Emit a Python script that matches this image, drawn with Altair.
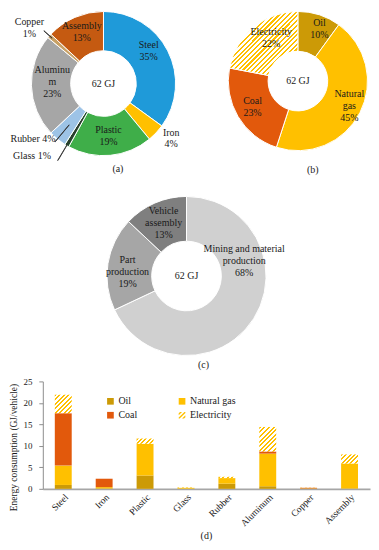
import altair as alt
import pandas as pd

# ---------------- data ----------------
# (a) energy by material / part (share of 62 GJ)
mat_names = ["Steel", "Iron", "Plastic", "Glass", "Rubber", "Aluminum", "Copper", "Assembly"]
mat_pct = [35, 4, 19, 1, 4, 23, 1, 13]
mat_labels = ["Steel\n35%", "Iron\n4%", "Plastic\n19%", "Glass 1%", "Rubber 4%",
              "Aluminu\nm\n23%", "Copper\n1%", "Assembly\n13%"]

# (b) energy by source
src_names = ["Oil", "Natural gas", "Coal", "Electricity"]
src_pct = [10, 45, 23, 22]
src_labels = ["Oil\n10%", "Natural\ngas\n45%", "Coal\n23%", "Electricity\n22%"]

# (c) energy by stage
stage_names = ["Mining and material production", "Part production", "Vehicle assembly"]
stage_pct = [68, 19, 13]
stage_labels = ["Mining and material\nproduction\n68%", "Part\nproduction\n19%", "Vehicle\nassembly\n13%"]

center_label = ["62 GJ"]
captions = ["(a)", "(b)", "(c)", "(d)"]

# (d) energy consumption by material and source (GJ/vehicle)
bar_cats = ["Steel", "Iron", "Plastic", "Glass", "Rubber", "Aluminum", "Copper", "Assembly"]
oil = [0.9, 0.1, 3.1, 0.05, 1.2, 0.6, 0.05, 0.1]
natural_gas = [4.5, 0.3, 7.4, 0.2, 1.3, 7.6, 0.05, 5.8]
coal = [12.2, 1.95, 0.0, 0.0, 0.0, 0.5, 0.15, 0.0]
electricity = [4.3, 0.0, 1.2, 0.1, 0.3, 5.7, 0.05, 2.1]
y_ticks = [0, 5, 10, 15, 20, 25]
y_title = "Energy consumption (GJ/vehicle)"

# ---------------- styles ----------------
FONT = "Liberation Serif"
TXT = "#1a1a1a"
YEL = "#ffc000"
LINE_H = 12
mat_colors = ["#1f9ad9", "#ffc000", "#3fae49", "#1f4e2a", "#9dc3e6", "#a6a6a6", "#c8a165", "#c55a11"]
src_colors = ["#cc9a06", "#ffc000", "#e2590c", "#ffc000"]
stage_colors = ["#d0d0d0", "#a6a6a6", "#7f7f7f"]
DOM = alt.Scale(domain=[0, 100])
HATCH_PATH = ("M-1,-0.6L-0.6,-1L0,-1L-1,0Z "
              "M-1,0.7L0.7,-1L1,-1L1,-0.7L-0.7,1L-1,1Z "
              "M0,1L1,0L1,0.6L0.6,1Z")

OFF = 33.5          # left overhang of the bar chart's y axis (title + labels + ticks)
CANVAS_W = 363


def hatch(w, h, color=YEL, period=4.7, duty=0.45):
    """Diagonal '/' stripes as a linear gradient over a w x h box."""
    w = max(w, 0.5)
    h = max(h, 0.5)
    s = (w + h) / (w * w + h * h)
    n = max(1, round((w + h) / period))
    stops = []
    for k in range(n):
        a, b, c = k / n, (k + duty) / n, (k + 1) / n
        stops += [{"offset": a, "color": color}, {"offset": b, "color": color},
                  {"offset": b, "color": "white"}, {"offset": c, "color": "white"}]
    return {"gradient": "linear", "x1": 0, "y1": 0, "x2": s * w, "y2": s * h, "stops": stops}


def donut_base(names, pct, labels):
    df = pd.DataFrame({"name": names, "pct": pct, "label": labels, "idx": list(range(len(names)))})
    return (alt.Chart(df)
            .transform_window(cum="sum(pct)", sort=[alt.SortField("idx")])
            .transform_calculate(t0="datum.cum - datum.pct",
                                 mid="datum.cum - datum.pct / 2",
                                 mid2="datum.cum - datum.pct / 2 + 0.06"))


def donut_arcs(base, names, colors, d, conditions=None):
    if conditions:
        color = alt.Color("name:N", scale=alt.Scale(domain=names, range=colors), legend=None,
                          condition=conditions)
    else:
        color = alt.Color("name:N", scale=alt.Scale(domain=names, range=colors), legend=None)
    return base.mark_arc(radius=d["R"], innerRadius=d["r"], stroke="white", strokeWidth=1).encode(
        theta=alt.Theta("t0:Q", scale=DOM), theta2="cum:Q", color=color,
        x=alt.value(d["cx"] - OFF), y=alt.value(d["cy"]))


def donut_labels(base, names, labels, styles, d, size=10):
    out = []
    n_lines = {n: lab.count("\n") + 1 for n, lab in zip(names, labels)}
    for name, (rad, dx, dy, align) in styles.items():
        dy_block = dy - (n_lines[name] - 1) * LINE_H / 2   # centre the text block
        out.append(base.transform_filter(alt.datum.name == name).mark_text(
            radius=rad, dx=dx, dy=dy_block, align=align, baseline="middle", lineBreak="\n",
            font=FONT, fontSize=size, lineHeight=LINE_H, color=TXT).encode(
            theta=alt.Theta("mid:Q", scale=DOM), text="label:N",
            x=alt.value(d["cx"] - OFF), y=alt.value(d["cy"])))
    return out


def donut_leaders(base, spec, d):
    out = []
    for name, (r1, r2) in spec.items():
        out.append(base.transform_filter(alt.datum.name == name).mark_arc(
            radius=r2, innerRadius=r1, stroke="#333333", strokeWidth=0.8, fill="#333333").encode(
            theta=alt.Theta("mid:Q", scale=DOM), theta2="mid2:Q",
            x=alt.value(d["cx"] - OFF), y=alt.value(d["cy"])))
    return out


def text_at(t, x, y, size=10):
    return alt.Chart(pd.DataFrame({"t": [t]})).mark_text(
        font=FONT, fontSize=size, color=TXT, align="center", baseline="middle").encode(
        text="t:N", x=alt.value(x - OFF), y=alt.value(y))


# ---------------- donuts (top) ----------------
A = dict(cx=94.5, cy=72.5, R=72.5, r=33)
B = dict(cx=290, cy=70, R=70, r=30)
C = dict(cx=178, cy=266, R=80, r=35)

base_a = donut_base(mat_names, mat_pct, mat_labels)
base_b = donut_base(src_names, src_pct, src_labels)
base_c = donut_base(stage_names, stage_pct, stage_labels)

styles_a = {
    "Steel": (55, -3.5, -7.5, "center"),
    "Iron": (88, 4, -5, "center"),
    "Plastic": (54, 0, -1, "center"),
    "Glass": (90, -7, -5, "right"),
    "Rubber": (78, 1.5, -4, "right"),
    "Aluminum": (55, 3.5, -3, "center"),
    "Copper": (92, -5.5, 5, "center"),
    "Assembly": (55, 0, -1, "center"),
}
styles_b = {
    "Oil": (54, 5, -1, "center"),
    "Natural gas": (58, 0, -1, "center"),
    "Coal": (53, 0, -1, "center"),
    "Electricity": (50, 5, -4.5, "center"),
}
styles_c = {
    "Mining and material production": (58, 9, -46, "center"),
    "Part production": (59, -1, 5, "center"),
    "Vehicle assembly": (58, 0, 0, "center"),
}
leaders_a = {"Copper": (69, 80), "Glass": (42, 90), "Rubber": (54, 76)}

elec_arc_grad = hatch(69.0, 64.5)
cond_b = [{"test": "datum.name === 'Electricity'", "value": elec_arc_grad}]

top_layers = [
    donut_arcs(base_a, mat_names, mat_colors, A),
    donut_arcs(base_b, src_names, src_colors, B, cond_b),
    donut_arcs(base_c, stage_names, stage_colors, C),
]
top_layers += donut_leaders(base_a, leaders_a, A)
top_layers += donut_labels(base_a, mat_names, mat_labels, styles_a, A)
top_layers += donut_labels(base_b, src_names, src_labels, styles_b, B)
top_layers += donut_labels(base_c, stage_names, stage_labels, styles_c, C)
top_layers += [text_at(center_label[0], d["cx"], d["cy"]) for d in (A, B, C)]
top_layers += [text_at(captions[0], 109, 158), text_at(captions[1], 305, 159),
               text_at(captions[2], 195, 356)]

top = alt.layer(*top_layers).properties(width=CANVAS_W - OFF, height=362).resolve_scale(color="independent")

# ---------------- bar chart (d) ----------------
plot_w, plot_h = 329, 108
bar_w = 17
px_per_unit = plot_h / y_ticks[-1]

rows = []
for i, c in enumerate(bar_cats):
    for j, (s, vals) in enumerate(zip(src_names, [oil, natural_gas, coal, electricity])):
        rows.append({"cat": c, "src": s, "ord": j, "val": vals[i]})
bdf = pd.DataFrame(rows)

elec_conditions = []
for c, e in zip(bar_cats, electricity):
    if e > 0:
        elec_conditions.append({"test": f"datum.cat === '{c}' && datum.src === 'Electricity'",
                                "value": hatch(bar_w, e * px_per_unit)})

leg_props = dict(orient="none", legendX=63, legendY=15, columns=2, direction="horizontal",
                 title=None, labelFont=FONT, labelFontSize=10, labelColor=TXT, symbolSize=45,
                 symbolStrokeWidth=0, labelOffset=3, columnPadding=40, rowPadding=4,
                 padding=0, symbolOpacity=1)
color_scale = alt.Scale(domain=src_names, range=src_colors)

bars = alt.Chart(bdf).mark_bar(width=bar_w).encode(
    x=alt.X("cat:N", sort=bar_cats, scale=alt.Scale(paddingInner=0, paddingOuter=0),
            axis=alt.Axis(title=None, labelAngle=-45, ticks=False, domainColor="#a6a6a6",
                          domainWidth=1.8, labelPadding=3, labelFont=FONT, labelFontSize=9.5,
                          labelColor=TXT)),
    y=alt.Y("val:Q", stack="zero", scale=alt.Scale(domain=[0, y_ticks[-1]], nice=False),
            axis=alt.Axis(values=y_ticks, title=y_title, grid=False, domainColor="#8c8c8c",
                          tickColor="#8c8c8c", tickSize=4, labelPadding=7, titlePadding=4,
                          labelFont=FONT, labelFontSize=9, labelColor=TXT, titleFont=FONT,
                          titleFontSize=9.5, titleFontWeight="normal", titleColor=TXT,
                          titleY=66)),
    color=alt.Color("src:N", scale=color_scale, legend=alt.Legend(**leg_props),
                    condition=elec_conditions),
    order=alt.Order("ord:Q", sort="ascending"),
)

legend_layer = alt.Chart(pd.DataFrame({"src": src_names})).mark_point(filled=True, opacity=0).encode(
    color=alt.Color("src:N", scale=color_scale, legend=alt.Legend(**leg_props)),
    shape=alt.Shape("src:N", scale=alt.Scale(domain=src_names,
                                             range=["square", "square", "square", HATCH_PATH]),
                    legend=alt.Legend(**leg_props)),
)

bar_chart = alt.layer(bars, legend_layer).properties(
    width=plot_w, height=plot_h,
    title=alt.TitleParams(captions[3], orient="bottom", font=FONT, fontSize=10,
                          fontWeight="normal", color=TXT, offset=4),
)

chart = (alt.vconcat(top, bar_chart, spacing=6)
         .resolve_scale(color="independent", shape="independent")
         .resolve_legend(color="independent", shape="independent")
         .properties(padding=0)
         .configure_view(stroke=None))

chart.save("out.html", embed_options={"renderer": "svg", "actions": False})
